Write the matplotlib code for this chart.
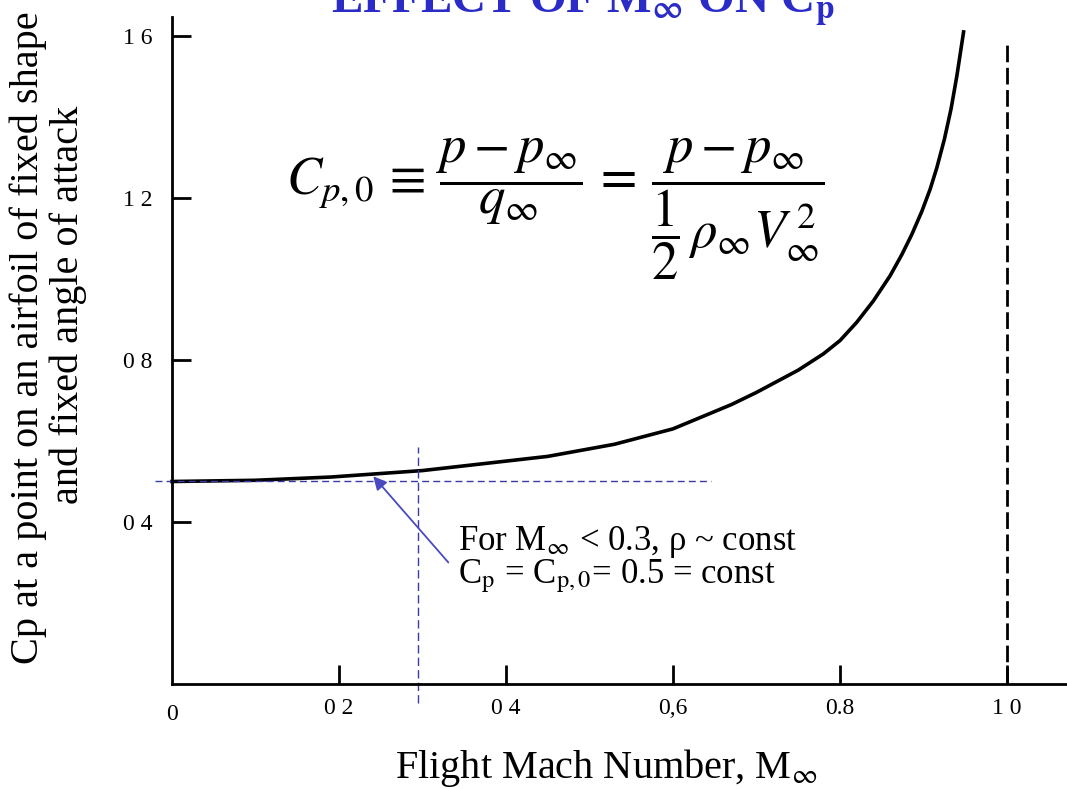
import matplotlib
matplotlib.use("Agg")
import matplotlib.pyplot as plt

# Cp против числа Маха
mach = [0.0, 0.1, 0.19, 0.3, 0.36, 0.45, 0.53, 0.6, 0.67, 0.7, 0.75, 0.78,
        0.8, 0.82, 0.84, 0.86, 0.874, 0.886, 0.898, 0.908, 0.916, 0.925,
        0.933, 0.94, 0.948]
cp = [0.5, 0.503, 0.511, 0.527, 0.541, 0.562, 0.592, 0.63, 0.69, 0.72, 0.775, 0.815,
      0.848, 0.893, 0.946, 1.008, 1.06, 1.11, 1.167, 1.222, 1.275, 1.345,
      1.42, 1.502, 1.61]

x_ticks = [0.0, 0.2, 0.4, 0.6, 0.8, 1.0]
x_labels = ["0", "0 2", "0 4", "0,6", "0.8", "1 0"]
y_ticks = [0.4, 0.8, 1.2, 1.6]
y_labels = ["0 4", "0 8", "1 2", "1 6"]

cp_const = 0.5      # несжимаемое значение
m_limit = 0.3       # граница несжимаемости

plt.rcParams['font.family'] = ['Liberation Serif', 'DejaVu Serif']
plt.rcParams['mathtext.fontset'] = 'stix'

W, H = 1067, 789
fig = plt.figure(figsize=(W / 100, H / 100), dpi=100)
ax = fig.add_axes([172 / W, 1 - 684 / H, 1 - 172 / W, (684 - 17) / H])
ax.set_xlim(0, (W - 172) / 835)
ax.set_ylim(0, (684 - 17) / 405)

for s in ['top', 'right']:
    ax.spines[s].set_visible(False)
for s in ['left', 'bottom']:
    ax.spines[s].set_linewidth(2)

ax.set_xticks(x_ticks[1:])
ax.set_xticklabels(x_labels[1:])
ax.set_yticks(y_ticks)
ax.set_yticklabels(y_labels)
ax.tick_params(direction='in', length=14, width=2, labelsize=17, pad=10)
ax.tick_params(axis='y', pad=14)
ax.text(0, -0.03, x_labels[0], transform=ax.get_xaxis_transform(),
        ha='center', va='top', fontsize=17)

# кривая Cp(M)
ax.plot(mach, cp, color='black', lw=2.6, clip_on=False)

# асимптота M = 1
ax.plot([1.0, 1.0], [0, 1.58], color='black', lw=2, dashes=(6, 2))

# вспомогательные линии
blue = '#3a3aa8'
ax.plot([-0.02, 0.645], [cp_const, cp_const], color=blue, lw=1, dashes=(5, 3),
        clip_on=False)
ax.plot([m_limit - 0.005, m_limit - 0.005], [-0.047, 0.585], color=blue, lw=1,
        dashes=(6, 3), clip_on=False)

ax.annotate('', xy=(0.241, 0.513), xytext=(0.331, 0.30),
            arrowprops=dict(arrowstyle='-|>', color='#4a4ac0', lw=1.3,
                            mutation_scale=20, shrinkA=0, shrinkB=0))

ax.text(0.343, 0.33, r'For M$_\infty$ < 0.3, ρ ~ const', fontsize=25,
        va='baseline')
ax.text(0.343, 0.25, r'C$_{\rm p}$ = C$_{\rm p,0}$= 0.5 = const', fontsize=25,
        va='baseline')

# формула коэффициента давления
ax.text(0.459, 1.173,
        r'$C_{p,0}\,\equiv\,\dfrac{p - p_\infty}{q_\infty}\,=\,'
        r'\dfrac{p - p_\infty}{\dfrac{1}{2}\,\rho_\infty V_\infty^{\,2}}$',
        fontsize=38, ha='center', va='center')

fig.text(28 / W, 1 - 338 / H, 'Cp at a point on an airfoil of fixed shape',
         rotation=90, ha='center', va='center', fontsize=29)
fig.text(68 / W, 1 - 305 / H, 'and fixed angle of attack',
         rotation=90, ha='center', va='center', fontsize=29)
fig.text(606 / W, 1 - 778 / H, r'Flight Mach Number, M$_\infty$',
         ha='center', va='baseline', fontsize=29)

fig.text(583 / W, 1 - 13 / H, r'EFFECT OF M$_\mathbf{\infty}$ ON C$_\mathbf{p}$',
         ha='center', va='baseline', fontsize=34, fontweight='bold', color='#2b2bc8')

fig.savefig('out.png', dpi=100)
